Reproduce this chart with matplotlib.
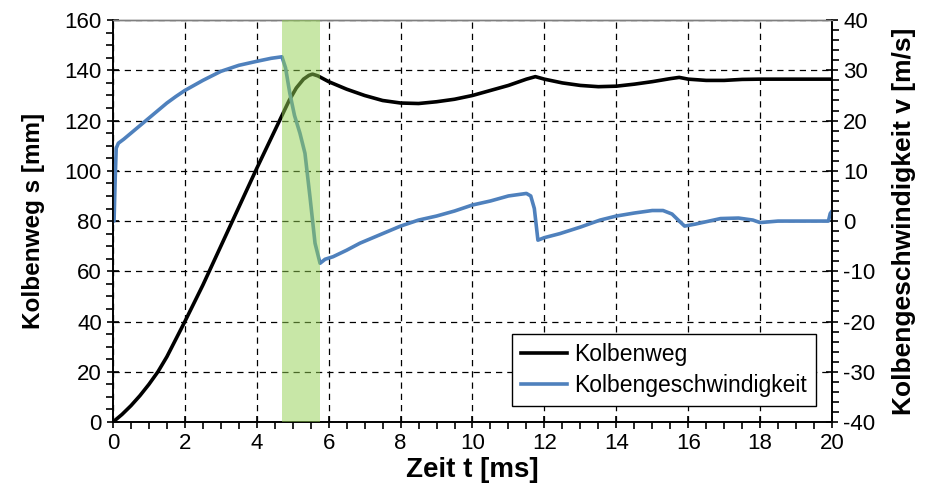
import numpy as np
import matplotlib.pyplot as plt
from matplotlib.ticker import MultipleLocator

plt.rcParams['font.family'] = ['Liberation Sans', 'DejaVu Sans']
plt.rcParams['axes.unicode_minus'] = False

# Kolbenweg s [mm] über Zeit t [ms]
t_weg = [0, 0.25, 0.5, 0.75, 1.0, 1.25, 1.5, 1.75, 2.0, 2.5, 3.0, 3.5, 4.0, 4.5, 4.7,
         4.9, 5.1, 5.3, 5.45, 5.55, 5.7, 6.0, 6.5, 7.0, 7.5, 8.0, 8.5, 9.0, 9.5, 10.0,
         10.5, 11.0, 11.5, 11.75, 12.0, 12.5, 13.0, 13.5, 14.0, 14.5, 15.0, 15.5,
         15.75, 16.0, 16.5, 17.0, 17.5, 18.0, 20.0]
s_weg = [0, 3, 6.5, 10.5, 15, 20, 26, 33, 40, 54.5, 70, 85.5, 101, 116, 122,
         128, 133, 136.5, 138, 138.5, 137.8, 135.5, 132.5, 130, 128, 127, 126.8, 127.5,
         128.5, 130, 132, 134, 136.5, 137.5, 136.5, 135, 134, 133.5, 133.7, 134.5,
         135.5, 136.7, 137.2, 136.5, 136, 136, 136.4, 136.5, 136.5]

# Kolbengeschwindigkeit v [m/s]
t_v = [0, 0.03, 0.06, 0.09, 0.15, 0.3, 0.5, 0.75, 1.0, 1.25, 1.5, 1.75, 2.0, 2.5, 3.0,
       3.5, 4.0, 4.4, 4.7, 4.8, 4.92, 5.05, 5.2, 5.34, 5.48, 5.62, 5.76, 5.9, 6.12,
       6.5, 6.87, 7.5, 8.0, 8.5, 9.0, 9.5, 10.0, 10.5, 11.0, 11.5, 11.62, 11.72, 11.82,
       12.0, 12.43, 13.0, 13.55, 14.0, 14.5, 15.0, 15.3, 15.55, 15.75, 15.9, 16.2,
       16.9, 17.4, 17.8, 18.0, 18.5, 19.0, 19.5, 19.9, 19.95, 20.0]
v = [0, 0, 8, 14.5, 15.5, 16.3, 17.5, 19.0, 20.5, 22.0, 23.5, 24.8, 26, 28, 29.8,
     31, 31.8, 32.4, 32.7, 30.5, 25.4, 21, 17.5, 13.5, 4.8, -4.4, -8.4, -7.6, -7.1,
     -5.8, -4.4, -2.5, -1.0, 0.2, 1.0, 2.0, 3.2, 4.0, 5.0, 5.5, 5.0, 2.5, -3.8,
     -3.3, -2.5, -1.2, 0.2, 1.0, 1.6, 2.1, 2.1, 1.4, 0, -1.0, -0.6,
     0.5, 0.6, 0.2, -0.3, 0, 0, 0, 0, 1.5, 2]

# markierter Zeitbereich
band = (4.7, 5.75)

fig = plt.figure(figsize=(9.26, 5.03), dpi=100)
ax = fig.add_axes([0.122, 0.161, 0.7765, 0.799])
ax2 = ax.twinx()

ax.plot(t_weg, s_weg, color='black', lw=2.6, label='Kolbenweg')
ax2.plot(t_v, v, color='#4f81bd', lw=2.6, label='Kolbengeschwindigkeit')
ax2.axvspan(band[0], band[1], color='#92d050', alpha=0.5, lw=0, zorder=5)

ax.set_xlim(0, 20)
ax.set_ylim(0, 160)
ax2.set_ylim(-40, 40)

ax.xaxis.set_major_locator(MultipleLocator(2))
ax.xaxis.set_minor_locator(MultipleLocator(0.5))
ax.yaxis.set_major_locator(MultipleLocator(20))
ax.yaxis.set_minor_locator(MultipleLocator(5))
ax2.yaxis.set_major_locator(MultipleLocator(10))
ax2.yaxis.set_minor_locator(MultipleLocator(2))

ax.grid(True, which='major', color='black', linestyle=(0, (5, 4)), lw=0.9)

for a in (ax, ax2):
    a.tick_params(which='major', direction='inout', length=9, width=1.2,
                  labelsize=16, colors='black')
    a.tick_params(which='minor', direction='out', length=5, width=1.2)
    for sp in a.spines.values():
        sp.set_linewidth(1.2)
    a.spines['top'].set_color('#7f7f7f')
    a.spines['top'].set_linewidth(1.0)

ax.set_xlabel('Zeit t [ms]', fontsize=20, fontweight='bold', labelpad=2)
ax.set_ylabel('Kolbenweg s [mm]', fontsize=17.5, fontweight='bold', labelpad=14)
ax2.set_ylabel('Kolbengeschwindigkeit v [m/s]', fontsize=19, fontweight='bold', labelpad=12)

h1, l1 = ax.get_legend_handles_labels()
h2, l2 = ax2.get_legend_handles_labels()
leg = ax2.legend(h1 + h2, l1 + l2, loc='lower right', fontsize=16.5, fancybox=False,
                 edgecolor='black', framealpha=1, handlelength=2.0, handletextpad=0.3,
                 borderaxespad=0.7, labelspacing=0.35)
leg.get_frame().set_linewidth(1.0)
leg.set_zorder(10)

fig.savefig('out.png', dpi=100)
